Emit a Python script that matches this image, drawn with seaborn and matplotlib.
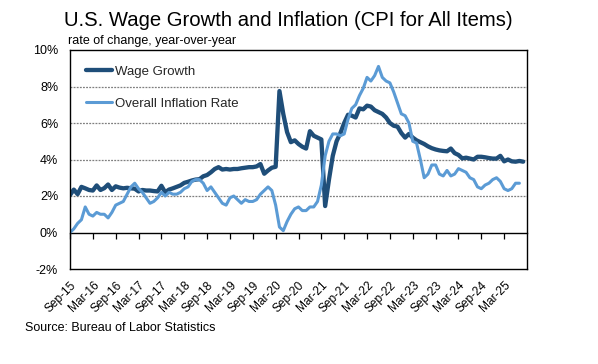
import numpy as np
import pandas as pd
import matplotlib
matplotlib.use("Agg")
import matplotlib.pyplot as plt
import seaborn as sns
from matplotlib.lines import Line2D

# ---- data (monthly, Sep-2015 .. Sep-2025 category axis) ----
months = pd.date_range("2015-09-01", "2025-09-01", freq="MS").strftime("%b-%y").tolist()

wage_growth = [
    2.05, 2.35, 2.10, 2.50,
    2.42, 2.33, 2.30, 2.58, 2.33, 2.43, 2.63, 2.33, 2.53, 2.46, 2.42, 2.45,
    2.42, 2.40, 2.25, 2.33, 2.30, 2.30, 2.27, 2.25, 2.56, 2.20, 2.35, 2.42,
    2.50, 2.58, 2.72, 2.78, 2.85, 2.90, 2.92, 3.08, 3.15, 3.30, 3.48, 3.58,
    3.45, 3.48, 3.45, 3.48, 3.48, 3.52, 3.55, 3.58, 3.58, 3.62, 3.75, 3.22,
    3.40, 3.55, 3.60, 7.75, 6.50, 5.50, 4.95, 5.05, 4.85, 4.70, 4.60, 5.55,
    5.30, 5.20, 5.10, 1.45, 2.90, 4.20, 5.00, 5.45, 6.00, 6.45, 6.40, 6.30,
    6.80, 6.75, 6.95, 6.90, 6.70, 6.60, 6.50, 6.30, 6.00, 5.85, 5.80, 5.45,
    5.20, 5.40, 5.20, 5.05, 4.95, 4.85, 4.72, 4.62, 4.55, 4.50, 4.47, 4.45,
    4.60, 4.35, 4.25, 4.06, 4.10, 4.05, 4.00, 4.15, 4.15, 4.12, 4.08, 4.05,
    4.05, 4.20, 3.90, 4.00, 3.90, 3.88, 3.92, 3.88,
]

inflation = [
    0.0, 0.2, 0.5, 0.7,
    1.4, 1.0, 0.9, 1.1, 1.0, 1.0, 0.8, 1.1, 1.5, 1.6, 1.7, 2.1,
    2.5, 2.7, 2.4, 2.2, 1.9, 1.6, 1.7, 1.9, 2.2, 2.0, 2.2, 2.1,
    2.1, 2.2, 2.4, 2.5, 2.8, 2.9, 2.9, 2.7, 2.3, 2.5, 2.2, 1.9,
    1.6, 1.5, 1.9, 2.0, 1.8, 1.6, 1.8, 1.7, 1.7, 1.8, 2.1, 2.3,
    2.5, 2.3, 1.5, 0.3, 0.1, 0.6, 1.0, 1.3, 1.4, 1.2, 1.2, 1.4,
    1.4, 1.7, 2.6, 4.2, 5.0, 5.4, 5.4, 5.3, 5.4, 6.2, 6.8, 7.0,
    7.5, 7.9, 8.5, 8.3, 8.6, 9.1, 8.5, 8.3, 8.2, 7.7, 7.1, 6.5,
    6.4, 6.0, 5.0, 4.9, 4.0, 3.0, 3.2, 3.7, 3.7, 3.2, 3.1, 3.4,
    3.1, 3.2, 3.5, 3.4, 3.3, 3.0, 2.9, 2.5, 2.4, 2.6, 2.7, 2.9,
    3.0, 2.8, 2.4, 2.3, 2.4, 2.7, 2.7,
]

series_names = ["Wage Growth", "Overall Inflation Rate"]
y_ticks = [-2, 0, 2, 4, 6, 8, 10]

title = "U.S. Wage Growth and Inflation (CPI for All Items)"
subtitle = "rate of change, year-over-year"
source = "Source: Bureau of Labor Statistics"

# ---- build long table ----
pos = np.arange(len(months))
df = pd.concat([
    pd.DataFrame({"pos": pos[:len(wage_growth)], "value": wage_growth, "series": series_names[0]}),
    pd.DataFrame({"pos": pos[:len(inflation)], "value": inflation, "series": series_names[1]}),
])

sns.set_theme(style="white")
plt.rcParams["font.family"] = ["Liberation Sans", "DejaVu Sans"]

fig = plt.figure(figsize=(5.98, 3.64), dpi=100)
ax = fig.add_axes([70 / 598, 1 - 269 / 364, (527 - 70) / 598, (269 - 50) / 364])

palette = {series_names[0]: "#1F4E79", series_names[1]: "#5B9BD5"}
widths = {series_names[0]: 3.1, series_names[1]: 2.2}
sns.lineplot(data=df, x="pos", y="value", hue="series", palette=palette,
             size="series", sizes=widths, ax=ax, legend=False)

ax.set_xlim(0, len(months) - 1)
ax.set_ylim(-2, 10)

# gridlines
for yv in [2, 4, 6, 8]:
    ax.axhline(yv, color="#7f7f7f", lw=0.9, ls=(0, (1.5, 1)), zorder=0)

ax.set_yticks(y_ticks)
ax.set_yticklabels([f"{v}%" for v in y_ticks], fontsize=9, color="black")
ax.tick_params(axis="y", length=0, pad=8.5, left=True)

tick_pos = pos[:-1:6]
ax.set_xticks(tick_pos)
ax.set_xticklabels([months[i] for i in tick_pos], rotation=45, ha="right",
                   rotation_mode="anchor", fontsize=8.6, color="black")
ax.tick_params(axis="x", length=0, pad=7.5, bottom=True)
ax.set_xlabel("")
ax.set_ylabel("")

for s in ax.spines.values():
    s.set_visible(True)
    s.set_color("black")
    s.set_linewidth(1.0)

# horizontal axis at 0% with downward tick marks
sec = ax.secondary_xaxis(1 / 6)
sec.set_xticks(tick_pos)
sec.set_xticklabels([])
sec.tick_params(axis="x", direction="out", length=4, width=0.9, color="black")
sec.spines["bottom"].set_color("black")
sec.spines["bottom"].set_linewidth(1.0)

# legend
handles = [Line2D([], [], color=palette[n], lw=widths[n]) for n in series_names]
ax.legend(handles, series_names, loc="upper left", bbox_to_anchor=(0.0, 1.0),
          frameon=False, fontsize=9.5, handlelength=2.0, handletextpad=0.2,
          labelspacing=1.5, borderaxespad=0.6, borderpad=0.6)

fig.text(0.482, 1 - 21 / 364, title, ha="center", va="center", fontsize=14.6,
         color="black")
fig.text(68 / 598, 1 - 44 / 364, subtitle, ha="left", va="baseline", fontsize=9,
         color="black")
fig.text(25 / 598, 1 - 328 / 364, source, ha="left", va="center", fontsize=9,
         color="black")

fig.savefig("out.png", dpi=100, facecolor="white")
